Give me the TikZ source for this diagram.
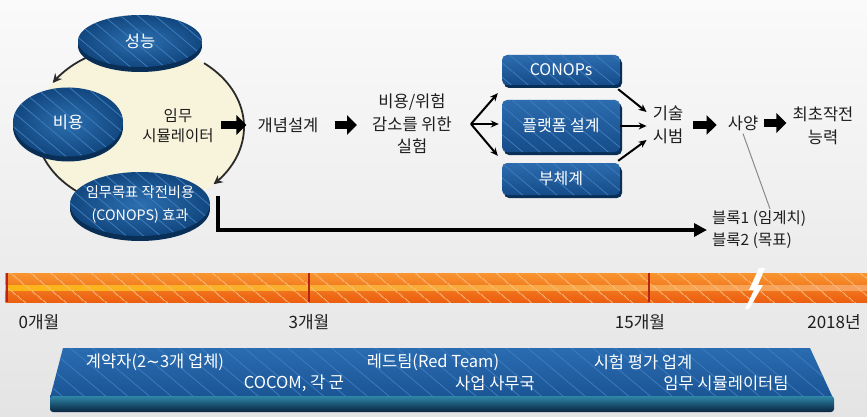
\documentclass[tikz,border=0pt]{standalone}
\usepackage{fontspec}
\setmainfont{Noto Sans CJK KR}
\newfontfamily\dejavu{DejaVu Sans}
\usetikzlibrary{arrows.meta,shapes.geometric,shadows,patterns.meta}
\definecolor{bgtop}{HTML}{FAFAFA}
\definecolor{bgbot}{HTML}{E4E4E4}
\definecolor{cream}{HTML}{F8F4DC}
\definecolor{arcc}{HTML}{2A2A2A}
\definecolor{discin}{HTML}{2C6FB0}
\definecolor{discout}{HTML}{12477F}
\definecolor{discrim}{HTML}{0A2F57}
\definecolor{stripe}{HTML}{3D7BBC}
\definecolor{boxtop}{HTML}{2C6CAE}
\definecolor{boxbot}{HTML}{164C8A}
\definecolor{orTop}{HTML}{F8952F}
\definecolor{orMid}{HTML}{F47B1E}
\definecolor{orBot}{HTML}{EC5E10}
\definecolor{orYel}{HTML}{FBB517}
\definecolor{orLight}{HTML}{F7A060}
\definecolor{tickc}{HTML}{B8261A}
\definecolor{barTop}{HTML}{2A6CB1}
\definecolor{barBot}{HTML}{1A5494}
\definecolor{bandTop}{HTML}{2F86A8}
\definecolor{bandBot}{HTML}{08243F}
\definecolor{gline}{HTML}{8A8A8A}
\definecolor{txtc}{HTML}{1E1E1E}
\tikzset{
  txt/.style={inner sep=0pt, align=center, text=txtc, font=\fontsize{16.5}{22.5}\selectfont},
  stripes/.style={postaction={pattern={Lines[angle=-40,distance=11pt,line width=0.8pt]}, pattern color=stripe}},
  disc/.style={ellipse, inner sep=0pt, text=white, align=center,
    inner color=discin, outer color=discout,
    drop shadow={shadow xshift=0pt, shadow yshift=-5pt, fill=discrim, opacity=1},
    stripes},
  bbox/.style={rectangle, rounded corners=5pt, minimum width=118pt, inner sep=0pt, text=white,
    font=\fontsize{16}{18}\selectfont,
    top color=boxtop, bottom color=boxbot,
    drop shadow={shadow xshift=2pt, shadow yshift=-3pt, fill=discrim, opacity=1},
    stripes},
  blockarrow/.style={line width=8pt, -{Triangle[length=10pt,width=19pt]}, black},
  thinarrow/.style={line width=2pt, -{Stealth[length=8pt,width=7pt]}, black},
  arcline/.style={line width=1.8pt, arcc},
  bartxt/.style={inner sep=0pt, text=white, font=\fontsize{16.5}{18}\selectfont},
  tl/.style={inner sep=0pt, text=txtc, font=\fontsize{17}{18}\selectfont},
}
\begin{document}
\begin{tikzpicture}[x=1pt,y=-1pt]
\useasboundingbox (0,0) rectangle (867,417);
% background
\shade[top color=bgtop, bottom color=bgbot] (0,0) rectangle (867,417);
% cycle ellipse
\fill[cream] (140,127) ellipse [x radius=104, y radius=81];
\draw[arcline, -{Stealth[length=9pt,width=9pt]}] plot[domain=0:1, samples=60, smooth]
  ({140+104*cos(-52+97*\x)},{127+81*sin(-52+97*\x)});
\draw[arcline, -{Stealth[length=9pt,width=9pt]}] plot[domain=0:1, samples=40, smooth]
  ({140+104*cos(-110-37*\x)},{127+81*sin(-110-37*\x)});
\draw[arcline] plot[domain=0:1, samples=40, smooth]
  ({140+104*cos(165-45*\x)},{127+81*sin(165-45*\x)});
% discs
\node[disc, minimum width=124pt, minimum height=52pt, font=\fontsize{16.5}{18}\selectfont] (perf) at (140,41) {성능};
\node[disc, minimum width=110pt, minimum height=69pt, font=\fontsize{16.5}{18}\selectfont] (cost) at (68,122) {비용};
\node[disc, minimum width=140pt, minimum height=64pt,
  label={[inner sep=0pt, text=white, align=center, font=\fontsize{14.3}{23}\selectfont]center:임무목표 작전비용\\(CONOPS) 효과}] (cop) at (140,204) {};
\node[txt, font=\fontsize{15.5}{20}\selectfont] (sim) at (178,126) {임무\\시뮬레이터};
% process texts
\node[txt] (concept) at (288,125) {개념설계};
\node[txt] (exper) at (412,124) {비용/위험\\감소를 위한\\실험};
\node[bbox, minimum height=30pt] (con) at (561,70) {CONOPs};
\node[bbox, minimum height=52pt] (plat) at (561,126) {플랫폼 설계};
\node[bbox, minimum height=32pt] (sub) at (561,179) {부체계};
\node[txt] (tech) at (668,125) {기술\\시범};
\node[txt] (spec) at (743,123) {사양};
\node[txt] (ioc) at (823,126) {최초작전\\능력};
\node[txt, align=left, anchor=west, font=\fontsize{15.5}{22}\selectfont] (blocks) at (712,230) {블록1 (임계치)\\블록2 (목표)};
% block arrows
\draw[blockarrow, shorten <=7pt, shorten >=11pt] (sim.east |- concept.west) -- (concept.west);
\draw[blockarrow, shorten <=16pt, shorten >=15pt] (concept.east) -- (concept.east -| exper.west);
\draw[blockarrow, shorten <=10pt, shorten >=11pt] (tech.east) -- (tech.east -| spec.west);
\draw[blockarrow, shorten <=6pt, shorten >=6pt] (spec.east) -- (spec.east -| ioc.west);
% fork
\coordinate (fork) at (471,124);
\draw[thinarrow] (fork) -- ([xshift=-4pt,yshift=-8pt]con.south west);
\draw[thinarrow] (fork) -- ([xshift=-3pt]fork -| plat.west);
\draw[thinarrow] (fork) -- ([xshift=-4pt,yshift=7pt]sub.north west);
% into tech
\draw[thinarrow] ([xshift=-2pt,yshift=-4pt]con.south east) -- ([xshift=-6pt,yshift=13pt]tech.west);
\draw[thinarrow] (plat.east) -- ([xshift=-6pt]plat.east -| tech.west);
\draw[thinarrow] ([xshift=-2pt,yshift=2pt]sub.north east) -- ([xshift=-6pt,yshift=-15pt]tech.west);
% spec to blocks
\draw[gline, line width=1pt] ([yshift=-3pt]spec.south) -- ([xshift=58pt,yshift=2pt]blocks.north west);
% L arrow
\coordinate (lstart) at ([xshift=8pt,yshift=8pt]cop.east);
\draw[line width=4pt, -{Triangle[length=13pt,width=13pt]}, shorten >=5pt] (lstart) |- (blocks.west);
% timeline
\shade[top color=orTop, middle color=orMid, bottom color=orBot] (5,273) rectangle (867,302);
\shade[left color=orYel, right color=orLight] (5,285) rectangle (867,290);
\path[pattern={Lines[angle=-40,distance=13pt,line width=0.7pt]}, pattern color=orTop!70!white] (5,273) rectangle (867,302);
\draw[tickc, line width=1.2pt] (7,273) -- (7,302);
\draw[tickc, line width=1.2pt] (309,273) -- (309,302);
\draw[tickc, line width=1.2pt] (649,273) -- (649,302);
\fill[white] (759,268) -- (765,268) -- (758,285) -- (763,285) -- (749,309) -- (745,309) -- (754,290) -- (749,290) -- cycle;
\node[tl] (m0) at (39,322) {0개월};
\node[tl] (m3) at (309,322) {3개월};
\node[tl] (m15) at (640,322) {15개월};
\node[tl] (m2018) at (834,322) {2018년};
% bottom bar
\shade[top color=barTop, bottom color=barBot] (63,348) -- (810,348) -- (833,398) -- (50,398) -- cycle;
\path[pattern={Lines[angle=-40,distance=14pt,line width=0.8pt]}, pattern color=stripe] (63,348) -- (810,348) -- (833,398) -- (50,398) -- cycle;
\shade[top color=bandTop, bottom color=bandBot, rounded corners=3pt] (50,396) -- (834,396) -- (834,412) -- (50,412) -- cycle;
\node[bartxt] (b1) at (155,362) {계약자(2{\dejavu ∼}3개 업체)};
\node[bartxt] (b2) at (294,383) {COCOM, 각 군};
\node[bartxt] (b3) at (433,362) {레드팀(Red Team)};
\node[bartxt] (b4) at (495,383) {사업 사무국};
\node[bartxt] (b5) at (643,362) {시험 평가 업계};
\node[bartxt] (b6) at (726,383) {임무 시뮬레이터팀};
\end{tikzpicture}
\end{document}
